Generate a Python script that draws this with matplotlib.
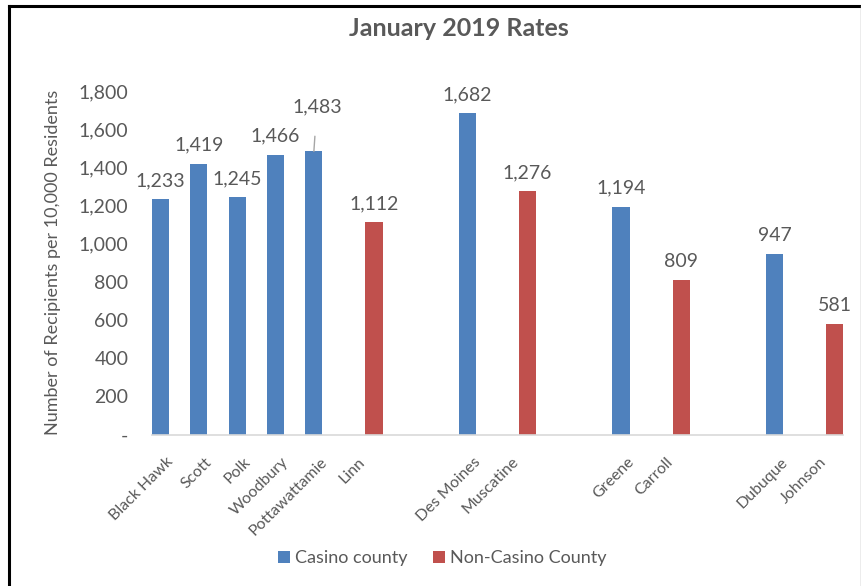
import matplotlib
matplotlib.use("Agg")
import matplotlib.pyplot as plt
import numpy as np

# Recipients per 10,000 residents, January 2019
# blank categories keep the spacing between county groups
condados = ["Black Hawk", "Scott", "Polk", "Woodbury", "Pottawattamie", "Linn", "", "",
            "Des Moines", "Muscatine", "", "", "Greene", "Carroll", "", "", "Dubuque", "Johnson"]
nan = np.nan
casino = [1233, 1419, 1245, 1466, 1483, nan, nan, nan, 1682, nan, nan, nan,
          1194, nan, nan, nan, 947, nan]
nao_casino = [nan, nan, nan, nan, nan, 1112, nan, nan, nan, 1276, nan, nan,
              nan, 809, nan, nan, nan, 581]
marcas_y = [0, 200, 400, 600, 800, 1000, 1200, 1400, 1600, 1800]

azul = "#4F81BD"
vermelho = "#C0504D"
cinza = "#595959"

plt.rcParams["font.family"] = ["Lato", "DejaVu Sans"]

fig = plt.figure(figsize=(8.62, 5.86), dpi=100)
ax = fig.add_axes([0.1763, 0.2582, 0.8017, 0.5867])

x = np.arange(len(condados))
desloc = 0.283
largura = 0.444
b1 = ax.bar(x - desloc, casino, largura, color=azul, label="Casino county")
b2 = ax.bar(x + desloc, nao_casino, largura, color=vermelho, label="Non-Casino County")

# rótulos de valor acima das barras
def rotular(xs, valores):
    for i, (xi, v) in enumerate(zip(xs, valores)):
        if np.isnan(v):
            continue
        if condados[i] == "Pottawattamie":
            # rótulo deslocado com linha de chamada
            ax.annotate(f"{v:,.0f}", (xi, v), xytext=(3, 39), textcoords="offset pixels",
                        ha="center", va="baseline", fontsize=14, color=cinza,
                        arrowprops=dict(arrowstyle="-", color="#A6A6A6", lw=1,
                                        shrinkA=13, shrinkB=0))
        else:
            ax.annotate(f"{v:,.0f}", (xi, v), xytext=(0, 13), textcoords="offset pixels",
                        ha="center", va="baseline", fontsize=14, color=cinza)

rotular(x - desloc, casino)
rotular(x + desloc, nao_casino)

ax.set_xlim(-0.5, len(condados) - 0.5)
ax.set_ylim(0, 1800)
ax.set_yticks(marcas_y)
ax.set_yticklabels(["-" if v == 0 else f"{v:,}" for v in marcas_y], fontsize=14)
ax.set_xticks(x)
ax.set_xticklabels(condados, rotation=45, ha="right", va="center", rotation_mode="anchor",
                   fontsize=11.5)
ax.tick_params(axis="both", length=0, colors=cinza)
ax.tick_params(axis="x", pad=18)
ax.tick_params(axis="y", pad=17)

for lado in ["top", "right", "left"]:
    ax.spines[lado].set_visible(False)
ax.spines["bottom"].set_color("#D9D9D9")
ax.spines["bottom"].set_linewidth(1.2)

ax.set_ylabel("Number of Recipients per 10,000 Residents", fontsize=13, color=cinza, labelpad=13)

fig.text(0.5325, 0.951, "January 2019 Rates", ha="center", va="center",
         fontsize=18, fontweight="bold", color=cinza)

fig.legend(handles=[b1, b2], loc="center", bbox_to_anchor=(0.513, 0.047), ncol=2,
           frameon=False, fontsize=13, labelcolor=cinza, handlelength=0.65,
           handleheight=0.65, handletextpad=0.3, columnspacing=1.4)

# moldura do gráfico
fig.add_artist(plt.Line2D([0.0110, 0.0110], [0, 0.9898], color="black", lw=2.2))
fig.add_artist(plt.Line2D([0.0110, 0.999], [0.9898, 0.9898], color="black", lw=2.2))
fig.add_artist(plt.Line2D([0.9988, 0.9988], [0, 0.9898], color="#A0A0A0", lw=1))

fig.savefig("out.png", dpi=100)
